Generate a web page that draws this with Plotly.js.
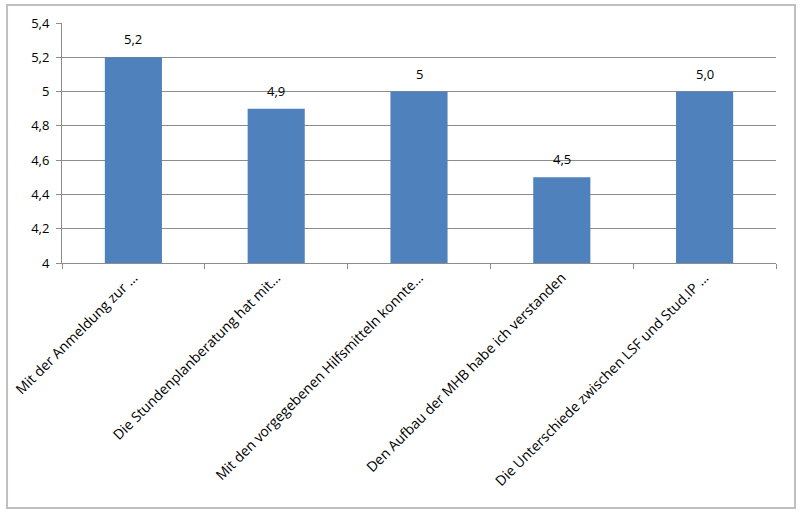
<!DOCTYPE html>
<html>
<head>
<meta charset="utf-8">
<script src="https://cdn.plot.ly/plotly-3.0.1.min.js"></script>
<style>
  html, body { margin: 0; padding: 0; background: #fff; }
  #chart { width: 800px; height: 515px; }
</style>
</head>
<body>
<div id="chart"></div>
<script>
const categories = [
  "Mit der Anmeldung zur …",
  "Die Stundenplanberatung hat mit…",
  "Mit den vorgegebenen Hilfsmitteln konnte…",
  "Den Aufbau der MHB habe ich verstanden",
  "Die Unterschiede zwischen LSF und Stud.IP …"
];
const values = [5.2, 4.9, 5.0, 4.5, 5.0];
const valueLabels = ["5,2", "4,9", "5", "4,5", "5,0"];
const yTickValues = [4, 4.2, 4.4, 4.6, 4.8, 5, 5.2, 5.4];

const fontFamily = "Open Sans, Liberation Sans, Arial, sans-serif";

const trace = {
  type: "bar",
  x: categories,
  y: values,
  marker: { color: "#4f81bd" },
  hoverinfo: "x+y"
};

const valueAnnotations = categories.map((c, i) => ({
  x: c, y: values[i], xref: "x", yref: "y",
  text: valueLabels[i],
  showarrow: false,
  yanchor: "middle",
  yshift: 18,
  font: { family: fontFamily, size: 13, color: "#000" }
}));

const layout = {
  width: 800,
  height: 515,
  margin: { l: 62, r: 24, t: 23, b: 252 },
  paper_bgcolor: "#fff",
  plot_bgcolor: "#fff",
  separators: ",.",
  font: { family: fontFamily, size: 13, color: "#000" },
  bargap: 0.6,
  showlegend: false,
  xaxis: {
    type: "category",
    tickangle: -45,
    ticks: "outside",
    tickson: "boundaries",
    ticklen: 5,
    tickcolor: "#8c8c8c",
    showline: true,
    linecolor: "#8c8c8c",
    linewidth: 1,
    showgrid: false,
    tickfont: { family: fontFamily, size: 14, color: "#000" },
    automargin: false
  },
  yaxis: {
    range: [4, 5.4],
    tickvals: yTickValues,
    ticks: "outside",
    ticklen: 5,
    tickcolor: "#8c8c8c",
    ticklabelstandoff: 4,
    showline: true,
    linecolor: "#8c8c8c",
    linewidth: 1,
    showgrid: true,
    gridcolor: "#8c8c8c",
    gridwidth: 1,
    zeroline: false,
    tickfont: { family: fontFamily, size: 13, color: "#000" },
    automargin: false
  },
  annotations: valueAnnotations,
  shapes: [{
    type: "rect",
    xref: "paper", yref: "paper",
    x0: -0.077, x1: 1.0266, y0: -1.021, y1: 1.075,
    line: { color: "#bfbfbf", width: 2 },
    fillcolor: "rgba(0,0,0,0)",
    layer: "below"
  }]
};

Plotly.newPlot("chart", [trace], layout, { displayModeBar: false, staticPlot: true });
</script>
</body>
</html>
